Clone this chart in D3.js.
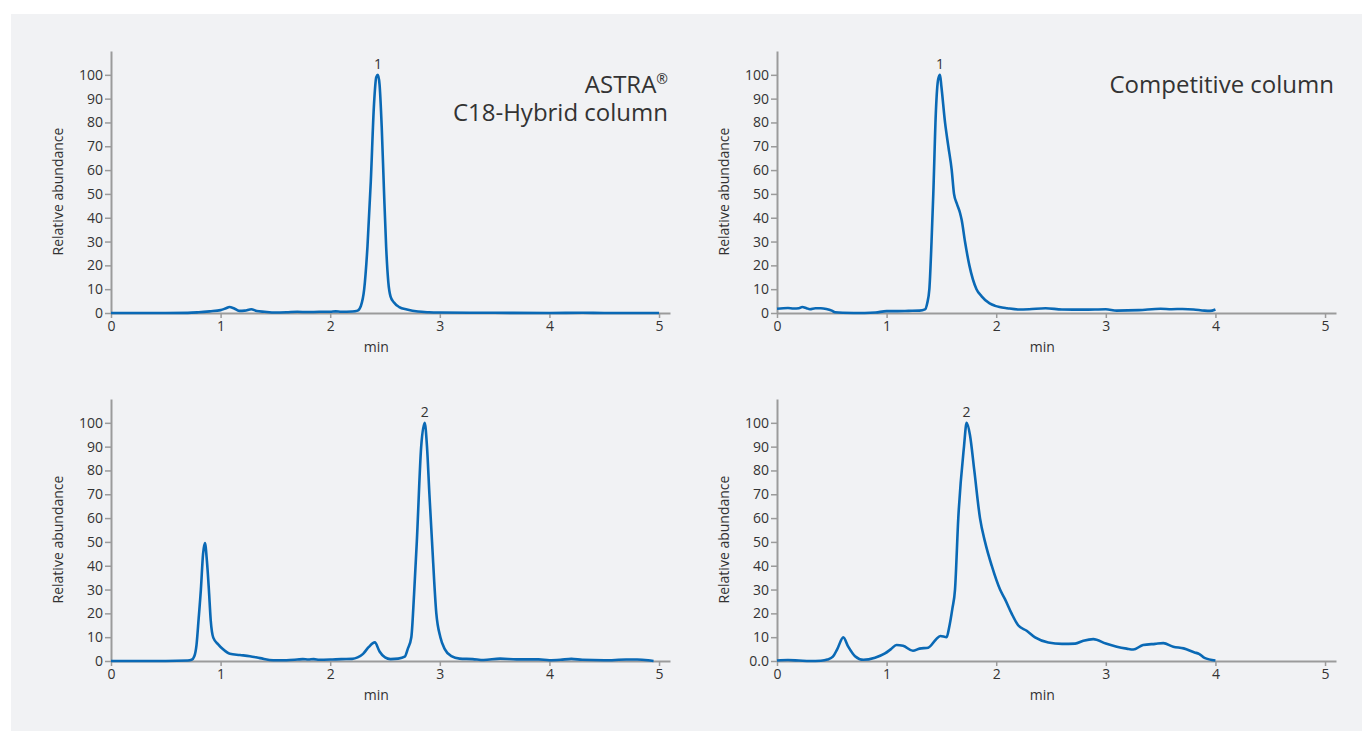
<!DOCTYPE html>
<html>
<head>
<meta charset="utf-8">
<script src="https://cdn.jsdelivr.net/npm/d3@7"></script>
<style>
  html, body { margin: 0; padding: 0; background: #fff; }
  svg { display: block; }
</style>
</head>
<body>
<svg id="chart"></svg>
<script>
// retention time (min), relative abundance
var astraPeak1 = [
    [0,0],[0.5,0],[0.7,0.05],[0.8,0.3],[0.9,0.7],[1.0,1.2],[1.05,2],[1.08,2.5],[1.12,2.0],
    [1.17,0.9],[1.22,1.0],[1.28,1.6],[1.33,0.8],[1.4,0.5],[1.5,0.2],[1.6,0.3],[1.7,0.5],
    [1.8,0.4],[1.9,0.5],[2.0,0.5],[2.05,0.7],[2.1,0.5],[2.2,0.6],[2.25,1.0],[2.28,3],
    [2.31,10],[2.34,28],[2.37,55],[2.40,88],[2.42,99],[2.435,100],[2.45,96],[2.47,78],
    [2.49,52],[2.51,28],[2.53,13],[2.55,7],[2.58,4.5],[2.63,2.5],[2.7,1.5],[2.8,0.6],
    [2.9,0.3],[3.0,0.2],[3.5,0.1],[4.0,0],[4.3,0.1],[4.5,0],[5.0,0]
];
var compPeak1 = [
    [0,1.8],[0.1,2.1],[0.15,1.9],[0.2,2.0],[0.23,2.5],[0.27,2.0],[0.3,1.6],[0.35,2.0],
    [0.4,2.0],[0.45,1.7],[0.5,1.0],[0.53,0.3],[0.6,0.1],[0.8,0],[0.9,0.2],[1.0,0.8],
    [1.1,0.8],[1.2,0.9],[1.3,1.0],[1.35,1.5],[1.37,4],[1.39,10],[1.41,30],[1.426,50],
    [1.45,85],[1.47,98],[1.487,100],[1.50,95],[1.533,80],[1.563,70],[1.594,60],[1.615,50],
    [1.64,46],[1.67,42],[1.685,39],[1.715,30],[1.755,20],[1.82,10],[1.867,7],[1.94,4],
    [1.99,3],[2.03,2.5],[2.1,2.0],[2.2,1.5],[2.3,1.6],[2.45,2.0],[2.6,1.5],[2.8,1.4],
    [3.0,1.6],[3.1,1.0],[3.3,1.2],[3.5,1.8],[3.6,1.6],[3.7,1.7],[3.8,1.5],[3.9,1.0],
    [3.95,0.9],[4.0,1.5]
];
var astraPeak2 = [
    [0,0],[0.5,0],[0.7,0.2],[0.735,0.5],[0.76,2],[0.78,6.7],[0.8,18],[0.82,30],[0.84,45],
    [0.857,49.5],[0.875,42],[0.893,30],[0.91,17],[0.933,9.8],[0.978,7],[1.02,5],[1.085,3],
    [1.176,2.5],[1.267,2],[1.36,1.2],[1.48,0.3],[1.6,0.3],[1.7,0.6],[1.75,0.8],[1.8,0.6],
    [1.85,0.8],[1.9,0.5],[2.0,0.6],[2.1,0.8],[2.2,0.9],[2.25,1.5],[2.3,3],[2.35,5.8],
    [2.407,7.8],[2.45,4],[2.5,1.5],[2.55,0.8],[2.62,1.0],[2.68,1.8],[2.707,5],[2.74,10],
    [2.765,28],[2.79,50],[2.83,90],[2.862,100],[2.883,90],[2.905,70],[2.929,50],[2.968,20],
    [3.005,10],[3.045,5],[3.105,2],[3.18,1],[3.3,0.8],[3.4,0.4],[3.55,1.0],[3.7,0.7],
    [3.9,0.7],[4.0,0.3],[4.1,0.5],[4.2,0.9],[4.3,0.5],[4.5,0.3],[4.7,0.6],[4.8,0.6],
    [4.9,0.3],[4.95,0]
];
var compPeak2 = [
    [0,0.2],[0.1,0.4],[0.2,0.2],[0.3,0],[0.4,0.1],[0.46,0.6],[0.51,1.8],[0.55,5],[0.605,9.9],
    [0.65,6],[0.712,2],[0.788,0.5],[0.894,1.4],[0.985,3.2],[1.04,5],[1.09,6.7],[1.15,6.4],
    [1.24,4.3],[1.3,5.2],[1.38,5.6],[1.45,9],[1.49,10.5],[1.548,10],[1.57,14],[1.6,22],
    [1.624,30],[1.654,60],[1.706,90],[1.73,100],[1.76,95],[1.80,80],[1.852,60],[1.898,50],
    [1.959,40],[2.035,30],[2.08,26],[2.14,20],[2.2,15],[2.278,12.7],[2.354,9.9],[2.475,7.8],
    [2.6,7.2],[2.72,7.3],[2.795,8.5],[2.886,9.2],[3.0,7.3],[3.1,6],[3.19,5.2],[3.25,4.8],
    [3.34,6.7],[3.45,7.2],[3.525,7.5],[3.615,6],[3.71,5.3],[3.81,3.6],[3.85,3.0],[3.9,1.3],
    [4.0,0.2]
];

var xTicks = [0, 1, 2, 3, 4, 5];
var yTicks = [0, 10, 20, 30, 40, 50, 60, 70, 80, 90, 100];
var xLabel = "min";
var yLabel = "Relative abundance";

var width = 1362, height = 731,
    lineColor = "#0a69b5",
    axisColor = "#9b9b9b",
    textColor = "#333",
    font = "'Open Sans', 'Noto Sans', sans-serif";

var svg = d3.select("#chart")
    .attr("width", width)
    .attr("height", height);

svg.append("rect")
    .attr("x", 11)
    .attr("y", 14)
    .attr("width", width - 11)
    .attr("height", height - 14)
    .attr("fill", "#f1f2f4");

var panels = [
    { data: astraPeak1, left: 111, base: 313, peak: "1", zeroLabel: "0" },
    { data: compPeak1,  left: 777, base: 313, peak: "1", zeroLabel: "0" },
    { data: astraPeak2, left: 111, base: 661, peak: "2", zeroLabel: "0" },
    { data: compPeak2,  left: 777, base: 661, peak: "2", zeroLabel: "0.0" }
];

var drawPanel = function(p) {
    let x = d3.scaleLinear().domain([0, 5.1]).range([p.left, p.left + 559]),
        y = d3.scaleLinear().domain([0, 110]).range([p.base, p.base - 262]),
        g = svg.append("g");

    // x axis
    let xa = g.append("g")
        .attr("transform", `translate(0,${p.base})`)
        .call(d3.axisBottom(x).tickValues(xTicks).tickSize(5).tickPadding(3).tickSizeOuter(0)
            .tickFormat(d3.format("d")));

    // y axis
    let ya = g.append("g")
        .attr("transform", `translate(${p.left},0)`)
        .call(d3.axisLeft(y).tickValues(yTicks).tickSize(6).tickPadding(2).tickSizeOuter(0)
            .tickFormat((d) => d === 0 ? p.zeroLabel : d));

    [xa, ya].forEach((a) => {
        a.select(".domain").attr("stroke", axisColor).attr("stroke-width", 2);
        a.selectAll(".tick line").attr("stroke", axisColor).attr("stroke-width", 1.5);
        a.selectAll(".tick text")
            .attr("fill", textColor)
            .attr("font-family", font)
            .attr("font-size", 14);
    });

    g.append("text")
        .attr("x", x(2.42))
        .attr("y", p.base + 39)
        .attr("text-anchor", "middle")
        .attr("font-family", font)
        .attr("font-size", 14)
        .attr("fill", textColor)
        .text(xLabel);

    g.append("text")
        .attr("transform", `translate(${p.left - 53},${y(51)}) rotate(-90)`)
        .attr("text-anchor", "middle")
        .attr("dy", "0.35em")
        .attr("font-family", font)
        .attr("font-size", 14)
        .attr("fill", textColor)
        .text(yLabel);

    let line = d3.line()
        .curve(d3.curveMonotoneX)
        .x((d) => x(d[0]))
        .y((d) => y(d[1]));

    g.append("path")
        .datum(p.data)
        .attr("d", line)
        .attr("fill", "none")
        .attr("stroke", lineColor)
        .attr("stroke-width", 2.6)
        .attr("stroke-linejoin", "round");

    // peak number above the top
    let top = p.data.reduce((a, b) => (b[1] > a[1] ? b : a));
    g.append("text")
        .attr("x", x(top[0]))
        .attr("y", y(top[1]) - 6)
        .attr("text-anchor", "middle")
        .attr("font-family", font)
        .attr("font-size", 14)
        .attr("fill", textColor)
        .text(p.peak);
};

panels.forEach(drawPanel);

// column titles (one text element, lines as tspans)
var title = function(xPos, yPos, lines) {
    let t = svg.append("text")
        .attr("x", xPos)
        .attr("y", yPos)
        .attr("text-anchor", "end")
        .attr("font-family", font)
        .attr("font-size", 24)
        .attr("fill", textColor);
    lines.forEach((parts, i) => {
        parts.forEach((s, j) => {
            let ts = t.append("tspan").text(s.text);
            if (j === 0 && i > 0) ts.attr("x", xPos).attr("dy", 28 + 9);
            if (s.sup) ts.attr("font-size", 14).attr("dy", -9);
        });
    });
};

title(668, 93, [[{ text: "ASTRA" }, { text: "®", sup: true }], [{ text: "C18-Hybrid column" }]]);
title(1334, 93, [[{ text: "Competitive column" }]]);
</script>
</body>
</html>
